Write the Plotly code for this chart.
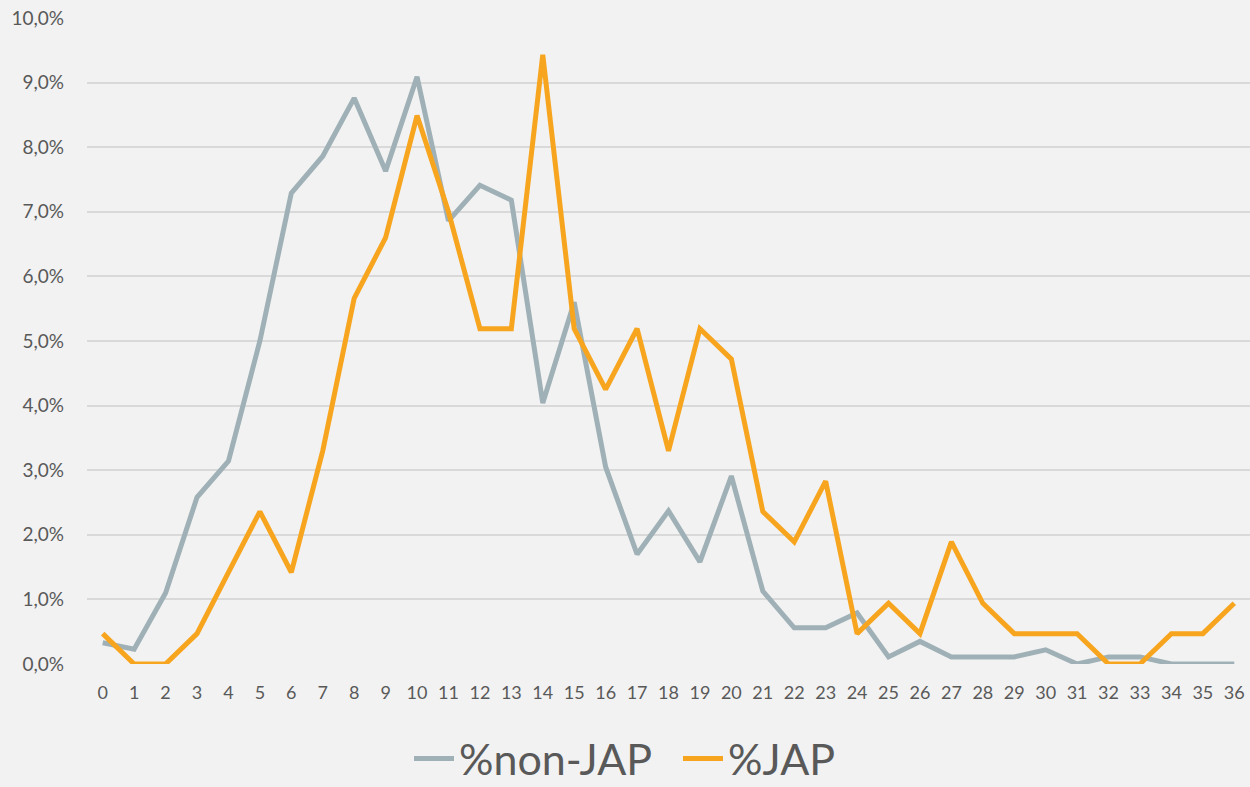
import plotly.graph_objects as go

categories = [str(i) for i in range(37)]
non_jap = [0.33, 0.23, 1.10, 2.58, 3.14, 5.00, 7.29, 7.86, 8.76, 7.63, 9.09, 6.86, 7.41, 7.18,
           4.04, 5.60, 3.05, 1.70, 2.37, 1.58, 2.91, 1.13, 0.56, 0.56, 0.79, 0.11, 0.35, 0.11,
           0.11, 0.11, 0.22, 0.00, 0.11, 0.11, 0.00, 0.00, 0.00]
jap = [0.47, 0.00, 0.00, 0.47, 1.42, 2.36, 1.42, 3.30, 5.66, 6.60, 8.49, 7.00, 5.19, 5.19,
       9.43, 5.19, 4.25, 5.19, 3.30, 5.19, 4.72, 2.36, 1.89, 2.83, 0.47, 0.94, 0.47, 1.89,
       0.94, 0.47, 0.47, 0.47, 0.00, 0.00, 0.47, 0.47, 0.94]
y_tickvals = [0, 1, 2, 3, 4, 5, 6, 7, 8, 9, 10]
y_ticktext = ["0,0%", "1,0%", "2,0%", "3,0%", "4,0%", "5,0%", "6,0%", "7,0%", "8,0%", "9,0%", "10,0%"]

FONT = "Lato"
TXT = "#595959"

fig = go.Figure()
fig.add_trace(go.Scatter(x=categories, y=non_jap, mode="lines", name="%non-JAP\u00a0\u00a0",
                         line=dict(color="#9fb1b6", width=5)))
fig.add_trace(go.Scatter(x=categories, y=jap, mode="lines", name="%JAP",
                         line=dict(color="#f7a51f", width=5)))

fig.update_layout(
    width=1250, height=787,
    paper_bgcolor="#f2f2f2", plot_bgcolor="#f2f2f2",
    margin=dict(l=87, r=0, t=18, b=123),
    font=dict(family=FONT, color=TXT),
    showlegend=True,
    legend=dict(orientation="h", x=0.5, xanchor="center", xref="container",
                y=0.036, yanchor="middle", yref="container",
                font=dict(size=43, color=TXT), itemwidth=40, traceorder="normal",
                bgcolor="rgba(0,0,0,0)"),
)
fig.update_xaxes(type="category", range=[-0.5, 36.5], showgrid=False, zeroline=False,
                 showline=False, ticks="", tickfont=dict(size=18, color=TXT), ticklabelstandoff=16)
fig.update_yaxes(range=[0, 10], tickvals=y_tickvals, ticktext=y_ticktext,
                 showgrid=True, gridcolor="#d9d9d9", gridwidth=1.5, zeroline=False,
                 showline=False, tickfont=dict(size=19, color=TXT), ticks="",
                 ticklabelstandoff=22)

fig.write_html("out.html", config={"displayModeBar": False})
with open("out.html", "r", encoding="utf-8") as f:
    html = f.read()
html = html.replace("<body>", '<body style="margin:0;background:#f2f2f2">', 1)
with open("out.html", "w", encoding="utf-8") as f:
    f.write(html)
